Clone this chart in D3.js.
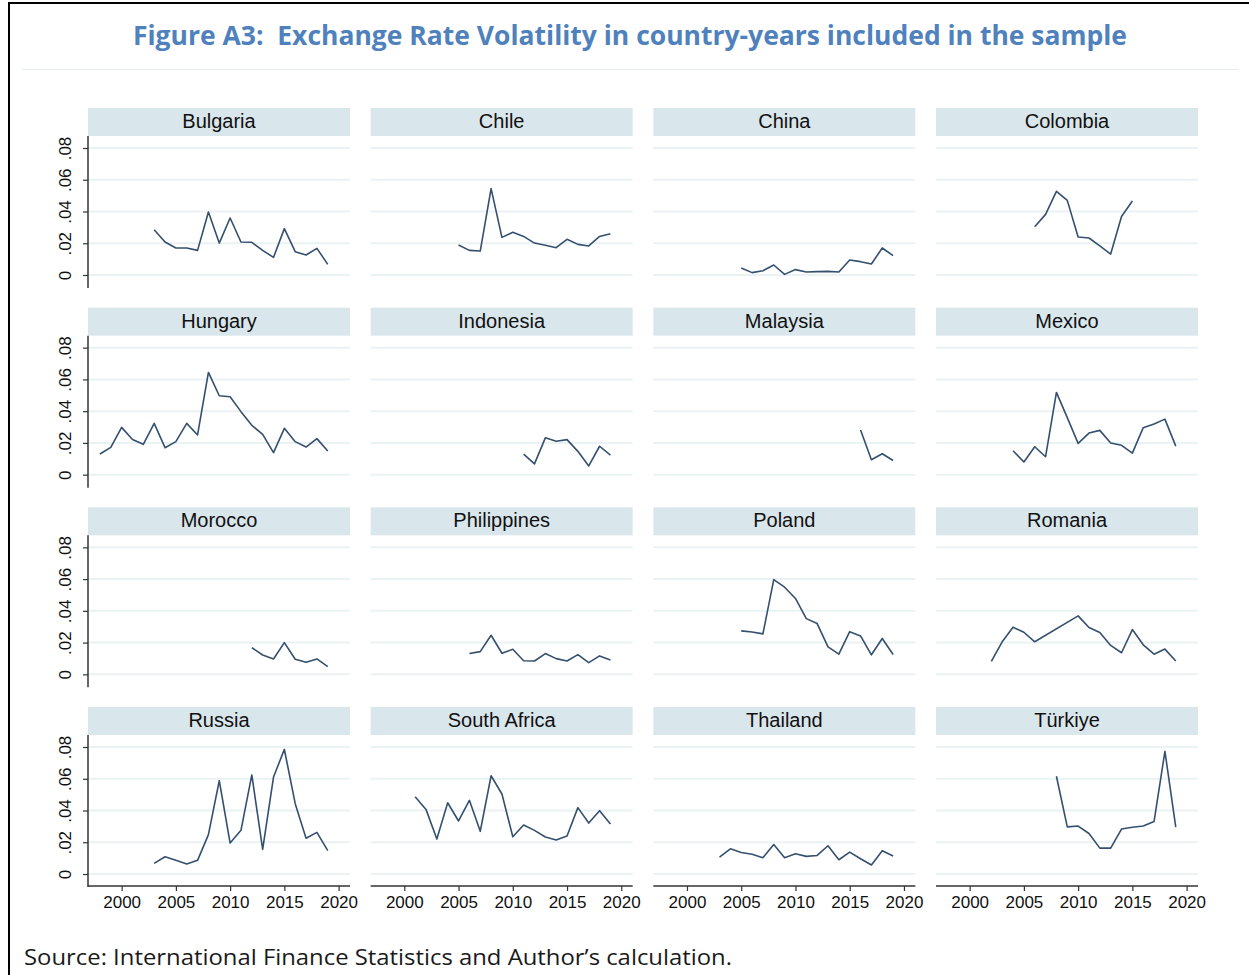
<!DOCTYPE html>
<html>
<head>
<meta charset="utf-8">
<script src="https://cdn.jsdelivr.net/npm/d3@7"></script>
<style>
  body { margin: 0; background: #fff; }
  svg { display: block; }
</style>
</head>
<body>
<svg id="chart" width="1249" height="975"></svg>
<script>
// volatility by country, [year, value]
const bulgaria = [[2003,.0285],[2004,.0208],[2005,.0170],[2006,.0170],[2007,.0155],[2008,.0397],[2009,.0201],[2010,.0359],[2011,.0208],[2012,.0206],[2013,.0155],[2014,.0111],[2015,.0292],[2016,.0147],[2017,.0126],[2018,.0168],[2019,.0067]];
const chile = [[2005,.0189],[2006,.0155],[2007,.0151],[2008,.0544],[2009,.0237],[2010,.0269],[2011,.0243],[2012,.0201],[2013,.0187],[2014,.0172],[2015,.0225],[2016,.0193],[2017,.0183],[2018,.0243],[2019,.0260]];
const china = [[2005,.0044],[2006,.0015],[2007,.0027],[2008,.0063],[2009,.0004],[2010,.0034],[2011,.0019],[2012,.0021],[2013,.0023],[2014,.0019],[2015,.0094],[2016,.0084],[2017,.0069],[2018,.0170],[2019,.0122]];
const colombia = [[2006,.0304],[2007,.0382],[2008,.0527],[2009,.0470],[2010,.0239],[2011,.0233],[2012,.0183],[2013,.0132],[2014,.0369],[2015,.0466]];
const hungary = [[1998,.0130],[1999,.0172],[2000,.0298],[2001,.0222],[2002,.0191],[2003,.0323],[2004,.0170],[2005,.0208],[2006,.0323],[2007,.0250],[2008,.0644],[2009,.0497],[2010,.0491],[2011,.0397],[2012,.0311],[2013,.0254],[2014,.0139],[2015,.0292],[2016,.0208],[2017,.0174],[2018,.0227],[2019,.0149]];
const indonesia = [[2011,.0130],[2012,.0068],[2013,.0232],[2014,.0211],[2015,.0221],[2016,.0147],[2017,.0055],[2018,.0179],[2019,.0123]];
const malaysia = [[2016,.0281],[2017,.0094],[2018,.0132],[2019,.0089]];
const mexico = [[2004,.0151],[2005,.0080],[2006,.0176],[2007,.0113],[2008,.0518],[2009,.0359],[2010,.0197],[2011,.0262],[2012,.0279],[2013,.0199],[2014,.0185],[2015,.0136],[2016,.0296],[2017,.0319],[2018,.0350],[2019,.0180]];
const morocco = [[2012,.0168],[2013,.0122],[2014,.0097],[2015,.0200],[2016,.0095],[2017,.0076],[2018,.0097],[2019,.0048]];
const philippines = [[2006,.0131],[2007,.0143],[2008,.0246],[2009,.0133],[2010,.0158],[2011,.0086],[2012,.0084],[2013,.0131],[2014,.0099],[2015,.0084],[2016,.0124],[2017,.0074],[2018,.0116],[2019,.0091]];
const poland = [[2005,.0274],[2006,.0267],[2007,.0255],[2008,.0597],[2009,.0549],[2010,.0478],[2011,.0351],[2012,.0320],[2013,.0173],[2014,.0127],[2015,.0269],[2016,.0242],[2017,.0123],[2018,.0226],[2019,.0125]];
const romania = [[2002,.0081],[2003,.0205],[2004,.0297],[2005,.0265],[2006,.0205],[2010,.0368],[2011,.0295],[2012,.0263],[2013,.0182],[2014,.0136],[2015,.0282],[2016,.0186],[2017,.0127],[2018,.0159],[2019,.0084]];
const russia = [[2003,.0067],[2004,.0109],[2005,.0086],[2006,.0063],[2007,.0086],[2008,.0248],[2009,.0588],[2010,.0195],[2011,.0275],[2012,.0624],[2013,.0155],[2014,.0611],[2015,.0785],[2016,.0443],[2017,.0225],[2018,.0262],[2019,.0147]];
const southAfrica = [[2001,.0487],[2002,.0407],[2003,.0220],[2004,.0449],[2005,.0334],[2006,.0464],[2007,.0269],[2008,.0619],[2009,.0504],[2010,.0235],[2011,.0309],[2012,.0275],[2013,.0233],[2014,.0214],[2015,.0239],[2016,.0418],[2017,.0321],[2018,.0399],[2019,.0315]];
const thailand = [[2003,.0107],[2004,.0159],[2005,.0136],[2006,.0124],[2007,.0103],[2008,.0186],[2009,.0103],[2010,.0128],[2011,.0111],[2012,.0117],[2013,.0178],[2014,.0090],[2015,.0138],[2016,.0096],[2017,.0057],[2018,.0147],[2019,.0113]];
const turkiye = [[2008,.0616],[2009,.0297],[2010,.0302],[2011,.0255],[2012,.0163],[2013,.0163],[2014,.0283],[2015,.0295],[2016,.0302],[2017,.0331],[2018,.0773],[2019,.0295]];

const countries = ['Bulgaria','Chile','China','Colombia','Hungary','Indonesia','Malaysia','Mexico','Morocco','Philippines','Poland','Romania','Russia','South Africa','Thailand','Türkiye'];
const series = [bulgaria, chile, china, colombia, hungary, indonesia, malaysia, mexico, morocco, philippines, poland, romania, russia, southAfrica, thailand, turkiye];
const yTicks = [0, .02, .04, .06, .08];
const yTickLabels = ['0', '.02', '.04', '.06', '.08'];
const xTicks = [2000, 2005, 2010, 2015, 2020];

const titleText = 'Figure A3:  Exchange Rate Volatility in country-years included in the sample';
const sourceText = 'Source: International Finance Statistics and Author\u2019s calculation.';

var svg = d3.select('#chart');

// frame and title
svg.append('line').attr('x1', 9).attr('x2', 9).attr('y1', 2).attr('y2', 975)
	.attr('stroke', '#000').attr('stroke-width', 2);
svg.append('line').attr('x1', 8).attr('x2', 1249).attr('y1', 3).attr('y2', 3)
	.attr('stroke', '#000').attr('stroke-width', 2);

svg.append('text')
	.attr('x', 630).attr('y', 45)
	.attr('text-anchor', 'middle')
	.attr('xml:space', 'preserve')
	.style('white-space', 'pre')
	.attr('font-family', '"Open Sans", "Noto Sans", sans-serif')
	.attr('font-weight', 700)
	.attr('font-size', 26)
	.attr('fill', '#4f81bd')
	.attr('textLength', 994)
	.attr('lengthAdjust', 'spacingAndGlyphs')
	.text(titleText);

svg.append('line').attr('x1', 22).attr('x2', 1238).attr('y1', 69.5).attr('y2', 69.5)
	.attr('stroke', '#e4ebef').attr('stroke-width', 1);

svg.append('text')
	.attr('x', 24).attr('y', 965)
	.attr('font-family', '"Open Sans", "Noto Sans", sans-serif')
	.attr('font-size', 22)
	.attr('fill', '#1a1a1a')
	.attr('textLength', 708)
	.attr('lengthAdjust', 'spacingAndGlyphs')
	.text(sourceText);

// panel grid
var colLeft = 88, colStep = 282.67, panelW = 262;
var rowTop = 108, rowStep = 199.67, stripH = 28;

var x = d3.scaleLinear().domain([1996.9, 2021.05]).range([0, panelW]);
var y = d3.scaleLinear().domain([0, .08]).range([167, 40]);

var line = d3.line()
	.x(function(d){ return x(d[0]) })
	.y(function(d){ return y(d[1]) });

countries.forEach(function(name, i){
	var col = i % 4;
	var row = Math.floor(i / 4);
	var g = svg.append('g')
		.attr('transform', `translate(${colLeft + col * colStep}, ${rowTop + row * rowStep})`);

	// strip
	g.append('rect')
		.attr('x', 0).attr('y', 0)
		.attr('width', panelW).attr('height', stripH)
		.attr('fill', '#d9e6ec');
	g.append('text')
		.attr('x', panelW / 2).attr('y', 20)
		.attr('text-anchor', 'middle')
		.attr('font-family', '"Liberation Sans", Arial, sans-serif')
		.attr('font-size', 20)
		.attr('fill', '#111')
		.text(name);

	// gridlines
	g.selectAll('.grid')
		.data(yTicks)
		.enter().append('line')
		.attr('x1', 0).attr('x2', panelW)
		.attr('y1', function(d){ return y(d) })
		.attr('y2', function(d){ return y(d) })
		.attr('stroke', '#eaf2f3')
		.attr('stroke-width', 2);

	// y axis on first column
	if (col === 0) {
		var yAxis = d3.axisLeft(y)
			.tickValues(yTicks)
			.tickSize(5)
			.tickFormat(function(d, k){ return yTickLabels[k] });
		var ya = g.append('g').call(yAxis);
		ya.select('.domain').remove();
		ya.append('line').attr('x1', 0).attr('x2', 0).attr('y1', stripH).attr('y2', 180)
			.attr('stroke', '#333').attr('stroke-width', 1.5);
		ya.selectAll('.tick line').attr('stroke', '#333').attr('stroke-width', 1.2);
		ya.selectAll('.tick text')
			.attr('font-family', '"Liberation Sans", Arial, sans-serif')
			.attr('font-size', 17)
			.attr('fill', '#111')
			.attr('x', null).attr('dy', null)
			.attr('text-anchor', 'middle')
			.attr('transform', 'translate(-17,0) rotate(-90)')
			.attr('y', 0);
	}

	// x axis on bottom row
	if (row === 3) {
		var xAxis = d3.axisBottom(x)
			.tickValues(xTicks)
			.tickSize(5)
			.tickFormat(d3.format('d'));
		var xa = g.append('g').attr('transform', 'translate(0,179)').call(xAxis);
		xa.select('.domain').remove();
		xa.append('line').attr('x1', 0).attr('x2', panelW).attr('y1', 0).attr('y2', 0)
			.attr('stroke', '#333').attr('stroke-width', 1.5);
		xa.selectAll('.tick line').attr('stroke', '#333').attr('stroke-width', 1.2);
		xa.selectAll('.tick text')
			.attr('font-family', '"Liberation Sans", Arial, sans-serif')
			.attr('font-size', 17)
			.attr('fill', '#111')
			.attr('y', 10);
	}

	g.append('path')
		.datum(series[i])
		.attr('fill', 'none')
		.attr('stroke', '#34506f')
		.attr('stroke-width', 1.6)
		.attr('stroke-linejoin', 'round')
		.attr('d', line);
});
</script>
</body>
</html>
